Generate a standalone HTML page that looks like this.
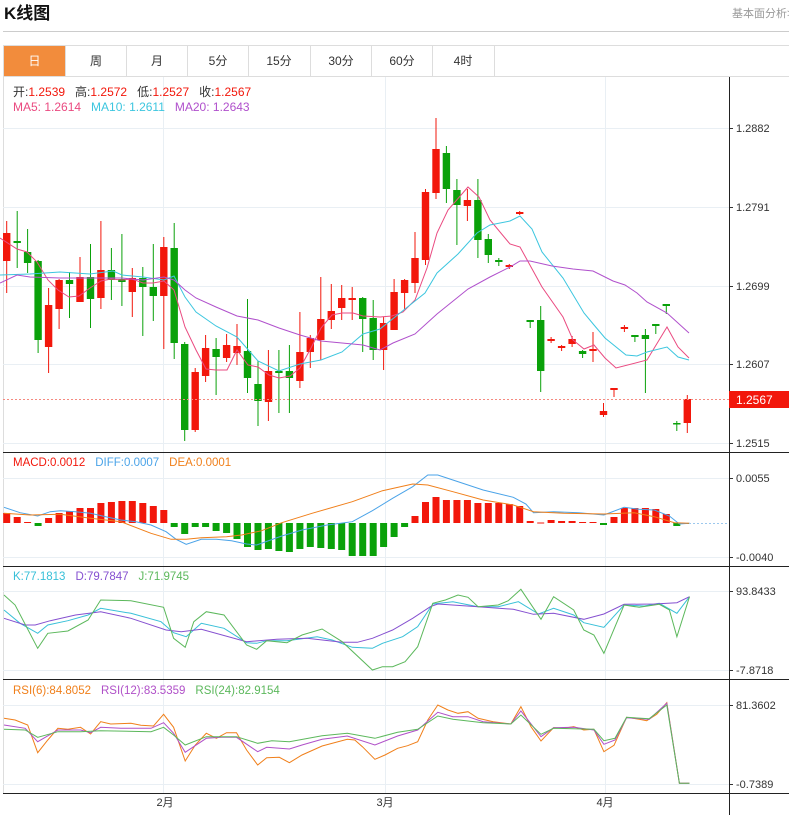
<!DOCTYPE html>
<html><head><meta charset="utf-8"><style>
body{margin:0;width:789px;height:815px;background:#fff;overflow:hidden;font-family:"Liberation Sans","Noto Sans CJK SC",sans-serif}
svg{position:absolute;left:0;top:0}
</style></head><body>
<svg id="s" width="789" height="815" xmlns="http://www.w3.org/2000/svg" font-family="Liberation Sans, Noto Sans CJK SC, sans-serif">
<text x="4" y="19" font-size="17" font-weight="bold" fill="#111">K线图</text>
<text x="732" y="17" font-size="11" fill="#999">基本面分析&gt;</text>
<line x1="3" y1="31.5" x2="789" y2="31.5" stroke="#ccc"/>
<line x1="3" y1="45.5" x2="789" y2="45.5" stroke="#ddd"/>
<line x1="3" y1="76.5" x2="789" y2="76.5" stroke="#ddd"/>
<rect x="4" y="46" width="61" height="30" fill="#f28c3c"/>
<g font-size="12" fill="#333" text-anchor="middle">
<text x="34.5" y="65" fill="#fff">日</text><text x="96" y="65">周</text><text x="157" y="65">月</text><text x="218" y="65">5分</text><text x="279" y="65">15分</text><text x="341" y="65">30分</text><text x="402" y="65">60分</text><text x="463" y="65">4时</text>
</g>
<g stroke="#ddd"><line x1="65.5" y1="46" x2="65.5" y2="76"/><line x1="126.5" y1="46" x2="126.5" y2="76"/><line x1="187.5" y1="46" x2="187.5" y2="76"/><line x1="248.5" y1="46" x2="248.5" y2="76"/><line x1="310.5" y1="46" x2="310.5" y2="76"/><line x1="371.5" y1="46" x2="371.5" y2="76"/><line x1="432.5" y1="46" x2="432.5" y2="76"/><line x1="494.5" y1="46" x2="494.5" y2="76"/><line x1="3.5" y1="46" x2="3.5" y2="793"/></g>
<g id="g"></g>
</svg>
<script>
var g=document.getElementById('g'),h='';
function L(x1,y1,x2,y2,c,w,d){h+='<line x1="'+x1+'" y1="'+y1+'" x2="'+x2+'" y2="'+y2+'" stroke="'+c+'" stroke-width="'+(w||1)+'"'+(d?' stroke-dasharray="'+d+'"':'')+'/>';}
function T(x,y,t,c,s,a){h+='<text x="'+x+'" y="'+y+'" fill="'+c+'" font-size="'+(s||11)+'"'+(a?' text-anchor="'+a+'"':'')+'>'+t+'</text>';}
function P(pts,c,sx,sy,ox,oy){var s='';pts.forEach(function(p){s+=(p[0]*sx+ox).toFixed(1)+','+(p[1]*sy+oy).toFixed(1)+' ';});h+='<polyline points="'+s+'" fill="none" stroke="'+c+'" stroke-width="1"/>';}
var GR='#e9eff4';
[128,207,286,364,443, 478,557, 591,670, 705,784].forEach(function(y){L(3,y+.5,729,y+.5,GR);L(729,y+.5,733,y+.5,'#333');});
[163.5,385.5,605.5].forEach(function(x){L(x,77,x,793,GR);});
[452.5,566.5,679.5,793.5].forEach(function(y){L(3,y,789,y,'#222');});
L(729.5,77,729.5,815,'#222');
[[128,'1.2882'],[207,'1.2791'],[286,'1.2699'],[364,'1.2607'],[443,'1.2515'],[478,'0.0055'],[557,'-0.0040'],[591,'93.8433'],[670,'-7.8718'],[705,'81.3602'],[784,'-0.7389']].forEach(function(a){T(736,a[0]+4,a[1],'#333',11);});
T(165,806,'2月','#333',11,'middle');T(385,806,'3月','#333',11,'middle');T(605,806,'4月','#333',11,'middle');
var C=[[233,261,221,293,1],[241,243,211,268,0],[252,263,229,273,0],[261,340,260,353,0],[305,347,288,373,1],[280,309,279,329,1],[280,284,272,318,0],[277,302,257,302,1],[277,299,244,328,0],[270,298,221,309,1],[270,280,248,300,0],[279,282,234,306,0],[278,292,268,317,1],[278,287,267,336,0],[287,296,244,321,0],[247,296,237,349,1],[248,343,223,359,0],[344,430,342,441,0],[372,430,368,432,1],[348,376,335,382,1],[349,357,338,395,0],[345,358,334,362,1],[346,353,324,365,1],[351,378,299,393,0],[384,401,361,426,0],[371,402,350,421,1],[371,373,350,413,0],[371,378,345,413,0],[352,381,312,388,1],[338,352,335,368,1],[319,340,277,360,1],[311,320,284,329,1],[298,308,285,320,1],[298,300,287,320,1],[298,319,297,352,0],[318,350,300,360,0],[323,350,317,370,1],[292,330,279,330,1],[280,293,279,309,1],[258,283,232,293,1],[192,260,189,265,1],[149,193,118,199,1],[153,189,146,203,0],[190,205,179,245,0],[200,206,189,221,1],[200,240,179,258,0],[239,255,234,263,0],[260,262,258,266,0],[265,267,264,269,1],[212,214,211,215,1],[320,322,320,328,0],[320,371,306,392,0],[339,341,337,343,1],[346,348,345,351,1],[339,344,336,347,1],[351,354,350,358,0],[349,351,332,362,1],[411,415,403,417,1],[388,390,388,397,1],[327,329,325,332,1],[335,337,335,342,0],[335,339,329,393,0],[324,326,324,334,0],[304,306,304,314,0],[423,424.5,421,431,0],[399,423,395,433,1]];
var RED='#f2170b',GRN='#0aa10a';
function X(i){return 6.7+i*10.47;}
C.forEach(function(c,i){var x=X(i),col=c[4]?RED:GRN;L(x.toFixed(1),c[2],x.toFixed(1),c[3],col,1);h+='<rect x="'+(x-3.7).toFixed(1)+'" y="'+c[0]+'" width="7.4" height="'+Math.max(1.5,c[1]-c[0])+'" fill="'+col+'"/>';});
P([[0,238],[17,249],[27,252],[37,262],[48,280],[58,290],[69,297],[79,296],[90,288],[101,281],[111,279],[122,280],[132,279],[143,283],[153,283],[164,281],[174,290],[185,327],[196,350],[206,369],[216,370],[227,370],[237,350],[248,365],[258,367],[269,375],[279,378],[290,376],[300,368],[311,348],[321,328],[332,315],[342,313],[353,313],[363,316],[380,317],[392,316],[403,312],[415,300],[427,268],[437,233],[448,210],[468,187],[479,197],[490,220],[510,244],[520,247],[542,287],[563,317],[573,340],[584,349],[594,345],[605,358],[616,368],[647,360],[667,327],[678,347],[689,358]],'#ea4a80',1,1,0,0);
P([[0,275],[30,274],[60,272],[90,274],[113,271],[122,275],[143,277],[164,280],[174,276],[185,297],[196,312],[216,326],[237,337],[258,361],[279,371],[300,364],[321,360],[342,352],[363,334],[380,329],[400,313],[425,293],[437,273],[458,254],[477,233],[490,225],[510,221],[520,216],[532,229],[542,252],[563,278],[584,313],[594,325],[605,338],[626,355],[637,356],[647,352],[667,347],[678,357],[689,360]],'#3cc6df',1,1,0,0);
P([[0,283],[17,275],[30,277],[60,278],[90,278],[122,278],[143,280],[164,277],[174,280],[185,290],[196,298],[216,307],[237,316],[258,320],[279,328],[300,335],[321,341],[342,343],[363,345],[380,350],[393,343],[415,334],[437,314],[468,289],[490,277],[510,267],[520,261],[530,261],[552,266],[573,269],[593,271],[613,281],[625,285],[637,293],[647,302],[667,313],[689,333]],'#b050cc',1,1,0,0);
L(3,399.5,729,399.5,'#f48a80',1,'2,2');
h+='<rect x="729" y="391" width="60" height="17" fill="#f2170b"/>';T(736,404,'1.2567','#fff',12);
h+='<text x="13" y="96" font-size="12"><tspan fill="#333">开:</tspan><tspan fill="#f2170b">1.2539</tspan><tspan fill="#333" dx="10">高:</tspan><tspan fill="#f2170b">1.2572</tspan><tspan fill="#333" dx="10">低:</tspan><tspan fill="#f2170b">1.2527</tspan><tspan fill="#333" dx="10">收:</tspan><tspan fill="#f2170b">1.2567</tspan></text>';
h+='<text x="13" y="111" font-size="12"><tspan fill="#ea4a80">MA5: 1.2614</tspan><tspan fill="#3cc6df" dx="10">MA10: 1.2611</tspan><tspan fill="#b050cc" dx="10">MA20: 1.2643</tspan></text>';
var M=[513,517,522,526,518,513,511,508,508,503,502,501,501,503,506,510,527,534,527,527,531,533,539,547,550,549,551,552,549,547,548,549,550,556,556,556,547,537,527,516,502,497,500,500,500,503,503,503,504,506,521,522.5,520,521,521,522,522,525,517,508,508,508,509,514,526,523.5];
var Z=523;
M.forEach(function(v,i){var x=X(i);var up=v<Z;var y=Math.min(v,Z),hh=Math.max(1,Math.abs(v-Z));h+='<rect x="'+(x-3.5).toFixed(1)+'" y="'+y+'" width="7" height="'+hh+'" fill="'+(up?RED:GRN)+'"/>';});
var sx=1/1.987,sy=1/3;
P([[8,172],[40,188],[75,198],[100,185],[120,182],[150,185],[180,190],[210,200],[240,210],[270,215],[300,225],[330,245],[350,268],[370,283],[400,268],[430,268],[460,272],[490,282],[510,285],[560,258],[600,240],[650,225],[700,215],[740,182],[780,145],[820,110],[850,75],[870,75],[900,90],[960,120],[1020,142],[1045,162],[1060,188],[1100,185],[1150,188],[1200,195],[1240,172],[1270,178],[1300,180],[1330,198],[1350,222],[1370,220]],'#4aa3e8',sx,sy,0,450);
P([[8,190],[60,195],[120,193],[180,205],[240,215],[300,250],[340,268],[370,268],[400,263],[450,260],[480,255],[520,242],[560,218],[620,190],[700,155],[760,122],[820,102],[850,105],[900,125],[960,150],[1020,165],[1060,185],[1120,190],[1200,192],[1260,188],[1300,200],[1340,218],[1370,220]],'#f07f1a',sx,sy,0,450);
L(689,523.5,729,523.5,'#9cc8ee',1,'2,2');
h+='<text x="13" y="466" font-size="11.5"><tspan fill="#f2170b">MACD:0.0012</tspan><tspan fill="#4aa3e8" dx="10">DIFF:0.0007</tspan><tspan fill="#f07f1a" dx="10">DEA:0.0001</tspan></text>';
P([[8,480],[40,520],[75,550],[95,525],[135,512],[175,495],[200,475],[260,490],[320,515],[345,548],[370,560],[400,520],[445,535],[490,578],[510,580],[530,572],[570,572],[630,560],[660,570],[700,592],[740,595],[760,580],[800,560],[830,530],[860,462],[900,455],[950,470],[990,470],[1030,455],[1070,492],[1100,475],[1140,495],[1160,518],[1200,532],[1240,465],[1280,468],[1310,460],[1345,490],[1370,440]],'#38c0d8',sx,sy,0,450);
P([[8,505],[50,525],[70,525],[100,512],[150,495],[200,485],[260,505],[330,540],[360,545],[400,538],[490,575],[550,568],[610,565],[680,577],[710,577],[740,565],[780,540],[820,505],[855,470],[870,462],[950,470],[1020,478],[1060,493],[1100,490],[1160,508],[1200,492],[1240,463],[1300,462],[1345,458],[1370,440]],'#8550d0',sx,sy,0,450);
P([[8,435],[30,465],[75,595],[95,550],[135,543],[175,510],[200,450],[260,452],[325,472],[345,565],[368,592],[385,515],[410,485],[445,495],[490,585],[510,598],[530,572],[570,578],[600,555],[640,537],[680,575],[740,660],[760,650],[780,650],[805,635],[830,590],[860,460],[885,450],[910,435],[930,442],[950,470],[990,465],[1010,452],[1035,418],[1075,508],[1100,440],[1140,480],[1160,540],[1180,555],[1200,610],[1240,465],[1270,472],[1310,463],[1330,480],[1345,560],[1370,440]],'#5cb85c',sx,sy,0,450);
h+='<text x="13" y="580" font-size="11.5"><tspan fill="#38c0d8">K:77.1813</tspan><tspan fill="#8550d0" dx="10">D:79.7847</tspan><tspan fill="#5cb85c" dx="10">J:71.9745</tspan></text>';
P([[8,805],[30,810],[55,825],[75,908],[95,870],[115,835],[135,838],[160,832],[180,852],[200,815],[220,822],[260,820],[280,826],[305,828],[325,793],[345,832],[368,933],[388,885],[410,850],[430,865],[450,848],[470,848],[490,900],[512,945],[530,923],[555,922],[575,938],[600,915],[640,888],[690,868],[705,870],[720,890],[745,928],[765,915],[790,895],[810,887],[830,875],[850,810],[870,765],[890,780],[910,790],[930,785],[950,805],[980,815],[1015,822],[1035,770],[1055,830],[1075,873],[1100,833],[1120,835],[1140,830],[1160,840],[1180,838],[1200,905],[1220,886],[1245,802],[1270,808],[1285,812],[1305,793],[1325,758],[1350,1000],[1370,1000]],'#f07f1a',sx,sy,0,450);
P([[8,825],[50,835],[75,875],[115,840],[160,840],[180,848],[200,832],[240,835],[300,835],[325,818],[345,850],[368,907],[410,865],[440,862],[470,862],[512,905],[530,892],[575,897],[600,885],[640,868],[690,858],[745,885],[790,858],[830,840],[870,787],[900,800],[930,800],[960,815],[1015,822],[1035,783],[1075,860],[1100,833],[1140,832],[1180,840],[1200,883],[1222,870],[1245,803],[1290,808],[1325,760],[1350,1000],[1370,1000]],'#b050c8',sx,sy,0,450);
P([[8,838],[50,840],[75,862],[115,845],[160,845],[200,842],[300,845],[325,832],[345,855],[368,885],[410,860],[470,860],[512,880],[540,872],[575,875],[640,857],[690,850],[745,865],[790,847],[830,838],[870,798],[900,808],[960,818],[1015,822],[1035,795],[1075,853],[1100,835],[1180,838],[1200,872],[1222,865],[1245,802],[1290,806],[1325,765],[1350,1000],[1370,1000]],'#5cb85c',sx,sy,0,450);
h+='<text x="13" y="694" font-size="11.5"><tspan fill="#f07f1a">RSI(6):84.8052</tspan><tspan fill="#b050c8" dx="10">RSI(12):83.5359</tspan><tspan fill="#5cb85c" dx="10">RSI(24):82.9154</tspan></text>';
g.innerHTML=h;
</script>
</body></html>
